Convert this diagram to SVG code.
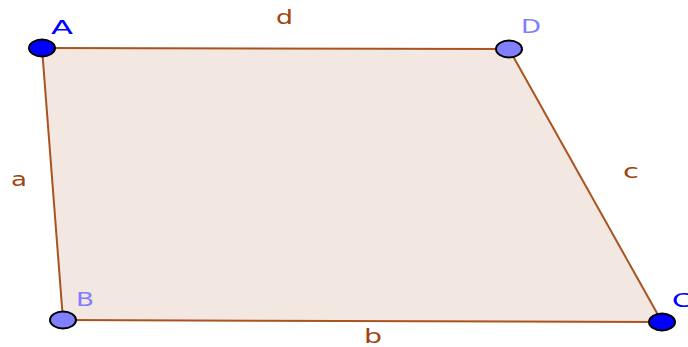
<svg xmlns="http://www.w3.org/2000/svg" width="688" height="347" viewBox="0 0 688 347">
<style>
.edge{stroke:#a9531f;stroke-width:2;fill:none}
.lbl{font-family:"DejaVu Sans","Liberation Sans",sans-serif;font-size:20px;fill:#a3420f}
.plbl{font-family:"DejaVu Sans","Liberation Sans",sans-serif;font-size:19px}
.pt{stroke:#000;stroke-width:2}
.free{fill:#0000ff}
.dep{fill:#7f7fff}
</style>
<rect width="688" height="347" fill="#fff"/>
<polygon points="42,48 509,49 662,322 63,320" fill="#f3e7e2" stroke="none"/>
<g id="connectors">
<line class="edge" x1="42" y1="48" x2="509" y2="49"/>
<line class="edge" x1="42" y1="48" x2="63" y2="320"/>
<line class="edge" x1="63" y1="320" x2="662" y2="322"/>
<line class="edge" x1="509" y1="49" x2="662" y2="322"/>
<text class="lbl" x="11" y="186" textLength="16" lengthAdjust="spacingAndGlyphs">a</text>
<text class="lbl" x="276" y="24" textLength="17" lengthAdjust="spacingAndGlyphs">d</text>
<text class="lbl" x="364" y="343" textLength="18" lengthAdjust="spacingAndGlyphs">b</text>
<text class="lbl" x="623" y="178" textLength="16" lengthAdjust="spacingAndGlyphs">c</text>
</g>
<g id="A"><ellipse class="pt free" cx="42" cy="48" rx="13" ry="8.5"/><text class="plbl" x="51" y="34" fill="#0000ff" textLength="22" lengthAdjust="spacingAndGlyphs">A</text></g>
<g id="D"><ellipse class="pt dep" cx="509" cy="49" rx="13" ry="8.5"/><text class="plbl" x="521" y="33" fill="#7f7fff" textLength="20" lengthAdjust="spacingAndGlyphs">D</text></g>
<g id="B"><ellipse class="pt dep" cx="63" cy="320" rx="13" ry="8.5"/><text class="plbl" x="76" y="306" fill="#7f7fff" textLength="18" lengthAdjust="spacingAndGlyphs">B</text></g>
<g id="C"><ellipse class="pt free" cx="662" cy="322" rx="13" ry="8.5"/><text class="plbl" x="672" y="307" fill="#0000ff" textLength="20" lengthAdjust="spacingAndGlyphs">C</text></g>
</svg>
